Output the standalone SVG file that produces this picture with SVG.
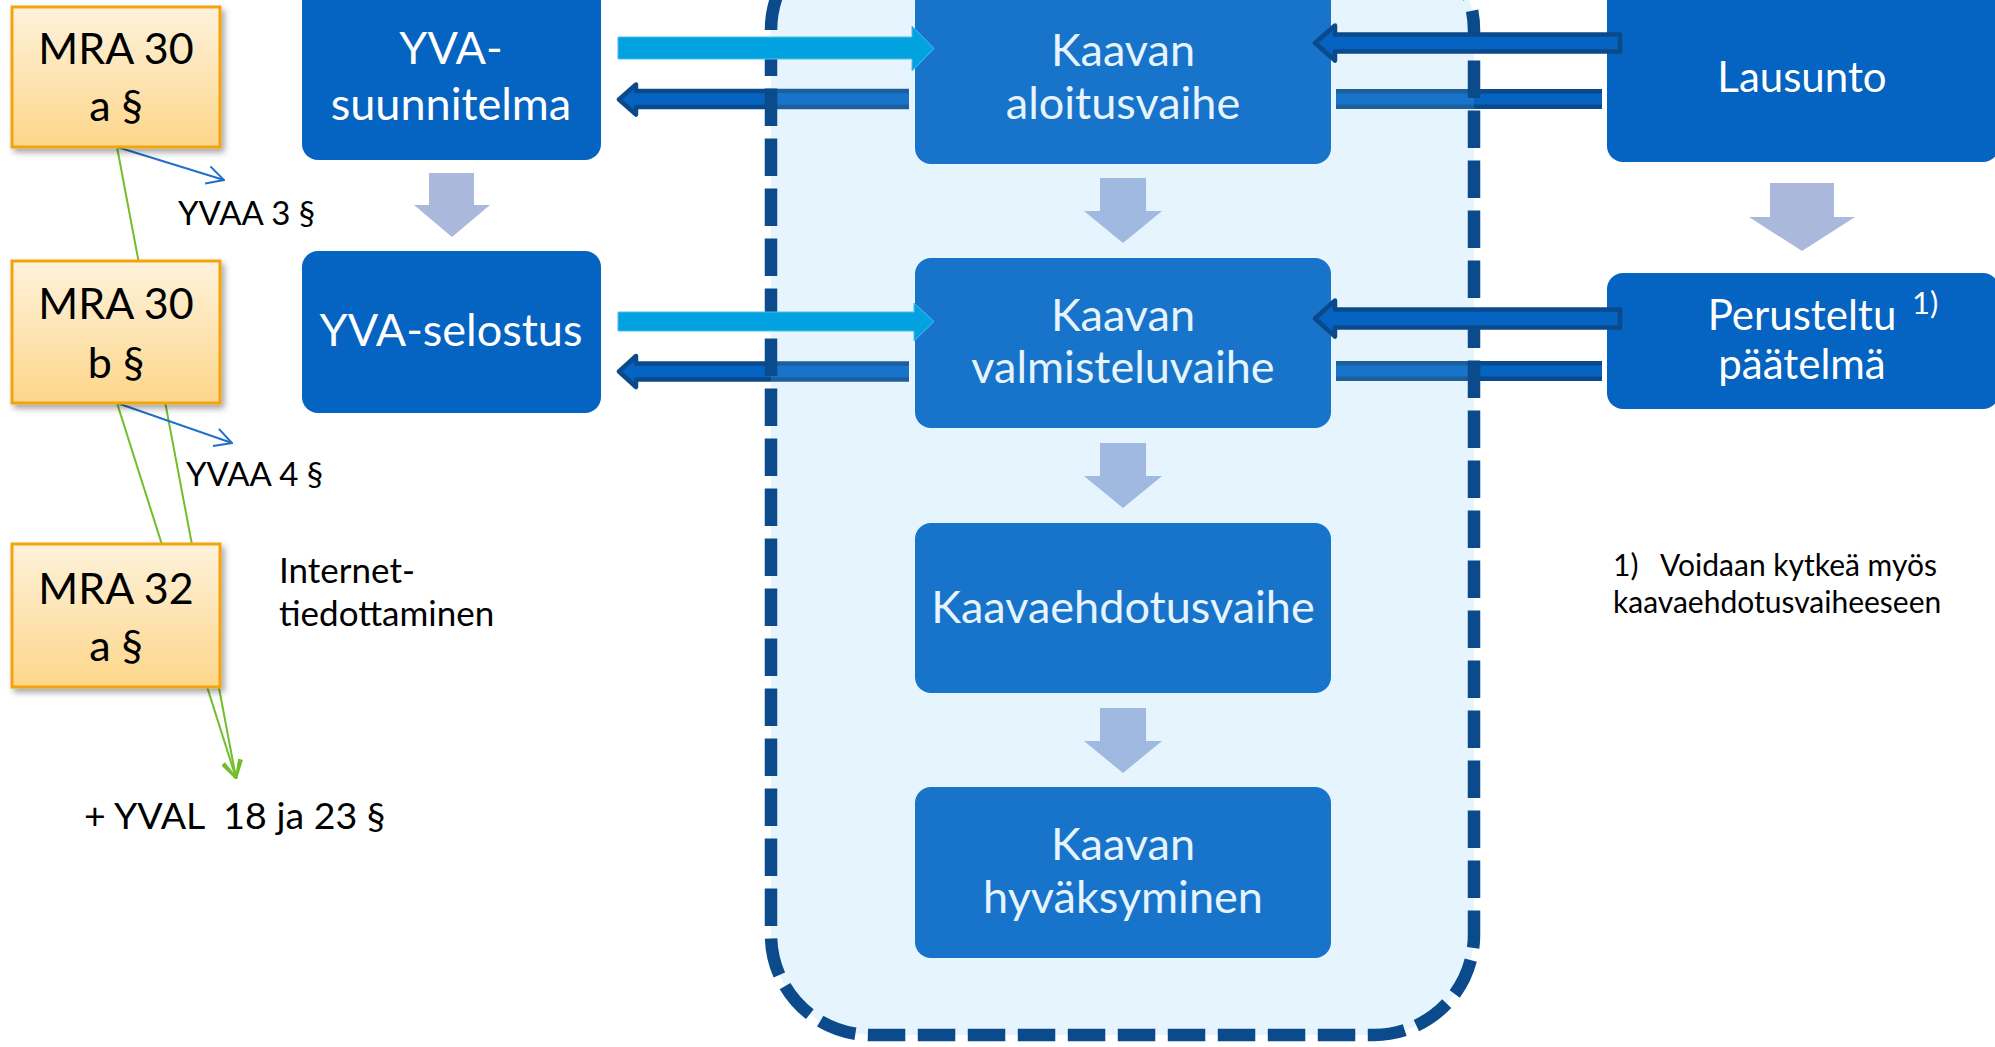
<svg xmlns="http://www.w3.org/2000/svg" width="1995" height="1047" viewBox="0 0 1995 1047">
<defs>
<linearGradient id="og" x1="0" y1="0" x2="0" y2="1">
<stop offset="0" stop-color="#FEF2DB"/>
<stop offset="1" stop-color="#FDD68A"/>
</linearGradient>
<filter id="sh" x="-10%" y="-10%" width="130%" height="130%">
<feDropShadow dx="3" dy="4" stdDeviation="3" flood-color="#000" flood-opacity="0.35"/>
</filter>
<marker id="mBlue" viewBox="0 0 20 20" refX="19" refY="10" markerWidth="20" markerHeight="20" markerUnits="userSpaceOnUse" orient="auto">
<path d="M2,1 L19,10 L2,19" fill="none" stroke="#2070C8" stroke-width="2"/>
</marker>
<marker id="mGreen" viewBox="0 0 20 20" refX="19" refY="10" markerWidth="20" markerHeight="20" markerUnits="userSpaceOnUse" orient="auto">
<path d="M2,1 L19,10 L2,19" fill="none" stroke="#72BE2A" stroke-width="2.5"/>
</marker>
<style>
.t{font-family:Lato,"Open Sans",sans-serif}
.w{fill:#fff;text-anchor:middle;font-size:45px}
.wr{fill:#fff;text-anchor:middle;font-size:42px}
.k{fill:#000}
.c{text-anchor:middle}
.ob{fill:url(#og);stroke:#F3A40F;stroke-width:3;filter:url(#sh)}
.bb{fill:#0563C1}
.ga{fill:#AAB8DC}
.gl{stroke:#72BE2A;stroke-width:2;fill:none}
.bl{stroke:#2070C8;stroke-width:2;fill:none}
.dk{fill:#0563C1;stroke:#0B4A8A;stroke-width:4.5;stroke-linejoin:round}
.dkf{fill:#0563C1}
.dko{fill:none;stroke:#0B4A8A;stroke-width:4.5;stroke-linejoin:round}
.cy{fill:#02A2E0;stroke:#4FBDEB;stroke-width:1}
</style>
</defs>
<rect width="1995" height="1047" fill="#fff"/>

<g id="connectors">
<line class="gl" x1="117" y1="147" x2="236" y2="778" marker-end="url(#mGreen)"/>
<line class="gl" x1="117" y1="403" x2="236" y2="778" marker-end="url(#mGreen)"/>
<line class="bl" x1="117" y1="147" x2="224" y2="180" marker-end="url(#mBlue)"/>
<line class="bl" x1="117" y1="403" x2="232" y2="443" marker-end="url(#mBlue)"/>
<polygon class="dkf" points="909,91 636,91 636,84.5 619,99.5 636,114.5 636,107 909,107"/>
<polyline class="dko" points="909,91 636,91 636,84.5 619,99.5 636,114.5 636,107 909,107"/>
<polygon class="dkf" points="909,363.5 636,363.5 636,356 619,371.5 636,387 636,379.5 909,379.5"/>
<polyline class="dko" points="909,363.5 636,363.5 636,356 619,371.5 636,387 636,379.5 909,379.5"/>
<rect x="1336" y="89" width="266" height="20" fill="#0B4A8A"/>
<rect x="1336" y="93.5" width="266" height="11" class="dkf"/>
<rect x="1336" y="361" width="266" height="20" fill="#0B4A8A"/>
<rect x="1336" y="365.5" width="266" height="11" class="dkf"/>
<polygon class="ga" points="429,173 474,173 474,205 490,205 452,237 414,205 429,205"/>
<polygon class="ga" points="1100,178 1146,178 1146,211 1162,211 1123,243 1084,211 1100,211"/>
<polygon class="ga" points="1100,443 1146,443 1146,476 1162,476 1123,508 1084,476 1100,476"/>
<polygon class="ga" points="1100,708 1146,708 1146,741 1162,741 1123,773 1084,741 1100,741"/>
<polygon class="ga" points="1770,183 1834,183 1834,217 1855,217 1802,251 1749,217 1770,217"/>
</g>

<g id="mra30a">
<rect class="ob" x="12" y="7" width="208" height="140"/>
<text class="t k c" x="116" y="64" font-size="43">MRA 30</text>
<text class="t k c" x="116" y="121" font-size="43">a §</text>
</g>
<g id="mra30b">
<rect class="ob" x="12" y="261" width="208" height="142"/>
<text class="t k c" x="116" y="319" font-size="43">MRA 30</text>
<text class="t k c" x="116" y="378" font-size="43">b §</text>
</g>
<g id="mra32a">
<rect class="ob" x="12" y="544" width="208" height="143"/>
<text class="t k c" x="116" y="604" font-size="43">MRA 32</text>
<text class="t k c" x="116" y="661" font-size="43">a §</text>
</g>

<g id="yva-suunnitelma">
<rect class="bb" x="302" y="-14" width="299" height="174" rx="16"/>
<text class="t w" x="451" y="64">YVA-</text>
<text class="t w" x="451" y="120">suunnitelma</text>
</g>
<g id="yva-selostus">
<rect class="bb" x="302" y="251" width="299" height="162" rx="16"/>
<text class="t w" x="451" y="346">YVA-selostus</text>
</g>

<g id="kaavan-aloitusvaihe">
<rect class="bb" x="915" y="-14" width="416" height="178" rx="16"/>
<text class="t w" x="1123" y="66">Kaavan</text>
<text class="t w" x="1123" y="119">aloitusvaihe</text>
</g>
<g id="kaavan-valmisteluvaihe">
<rect class="bb" x="915" y="258" width="416" height="170" rx="16"/>
<text class="t w" x="1123" y="331">Kaavan</text>
<text class="t w" x="1123" y="383">valmisteluvaihe</text>
</g>
<g id="kaavaehdotusvaihe">
<rect class="bb" x="915" y="523" width="416" height="170" rx="16"/>
<text class="t w" x="1123" y="623" font-size="44">Kaavaehdotusvaihe</text>
</g>
<g id="kaavan-hyvaksyminen">
<rect class="bb" x="915" y="787" width="416" height="171" rx="16"/>
<text class="t w" x="1123" y="860">Kaavan</text>
<text class="t w" x="1123" y="913">hyväksyminen</text>
</g>

<g id="lausunto">
<rect class="bb" x="1607" y="-14" width="392" height="176" rx="16"/>
<text class="t wr" x="1802" y="92">Lausunto</text>
</g>
<g id="perusteltu-paatelma">
<rect class="bb" x="1607" y="273" width="392" height="136" rx="16"/>
<text class="t wr" x="1802" y="330">Perusteltu</text>
<text class="t" x="1912" y="314" font-size="31" fill="#fff">1)</text>
<text class="t wr" x="1802" y="379">päätelmä</text>
</g>

<g id="kaava-prosessi">
<path d="M771,30 A100,100 0 0 1 871,-70 L1374,-70 A100,100 0 0 1 1474,30 L1474,935 A100,100 0 0 1 1374,1035 L871,1035 A100,100 0 0 1 771,935 Z" fill="#71BEF4" fill-opacity="0.176"/>
<path d="M771,30 A100,100 0 0 1 871,-70 L1374,-70 A100,100 0 0 1 1474,30 L1474,935 A100,100 0 0 1 1374,1035 L871,1035 A100,100 0 0 1 771,935 Z" fill="none" stroke="#0B4A8B" stroke-width="12.5" stroke-dasharray="37.5 12.5" stroke-dashoffset="2.8"/>
</g>

<g id="connectors-front">
<polygon class="cy" points="618,37 912,37 912,26 934,48.5 912,71 912,59 618,59"/>
<polygon class="cy" points="618,312 914,312 914,303 934,321.5 914,341 914,331 618,331"/>
<polygon class="dk" points="1620,34.5 1335,34.5 1335,25.5 1315,43 1335,60.5 1335,51.5 1620,51.5"/>
<polygon class="dk" points="1620,309.5 1335,309.5 1335,300.5 1315,318.5 1335,336.5 1335,327.5 1620,327.5"/>
</g>

<g id="labels">
<text class="t k" x="178" y="225" font-size="33">YVAA 3 §</text>
<text class="t k" x="186" y="486" font-size="33">YVAA 4 §</text>
<text class="t k" x="279" y="583" font-size="35">Internet-</text>
<text class="t k" x="279" y="626" font-size="35">tiedottaminen</text>
<text class="t k" x="84" y="829" font-size="37.5" style="white-space:pre">+ YVAL  18 ja 23 §</text>
<text class="t k" x="1613" y="576" font-size="30">1)</text>
<text class="t k" x="1660" y="576" font-size="30">Voidaan kytkeä myös</text>
<text class="t k" x="1613" y="613" font-size="30">kaavaehdotusvaiheeseen</text>
</g>
</svg>
